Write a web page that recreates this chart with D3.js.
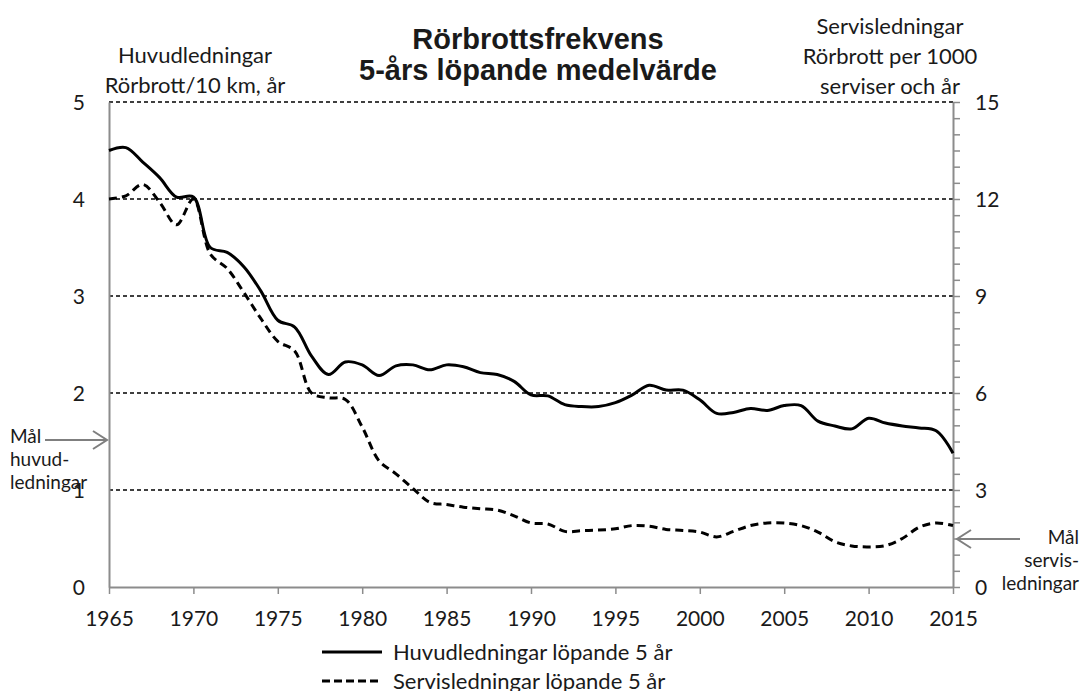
<!DOCTYPE html>
<html>
<head>
<meta charset="utf-8">
<script src="https://d3js.org/d3.v7.min.js"></script>
<style>
  body { margin: 0; background: #fff; }
  text { font-family: Lato, "DejaVu Sans", sans-serif; fill: #1a1a1a; }
</style>
</head>
<body>
<div id="chart"></div>
<script>
var years = d3.range(1965, 2016);

// Huvudledningar, rörbrott/10 km och år (vänster axel)
var huvudValues = [
  4.50, 4.53, 4.38, 4.22, 4.02, 4.02, 3.50, 3.45, 3.30, 3.05,
  2.75, 2.68, 2.38, 2.19, 2.32, 2.29, 2.18, 2.28, 2.29, 2.24,
  2.29, 2.27, 2.21, 2.19, 2.12, 1.98, 1.97, 1.88, 1.86, 1.86,
  1.90, 1.98, 2.08, 2.03, 2.03, 1.93, 1.79, 1.80, 1.84, 1.82,
  1.87, 1.87, 1.71, 1.66, 1.63, 1.74, 1.69, 1.66, 1.64, 1.61,
  1.38
];

// Servisledningar, rörbrott per 1000 serviser och år (höger axel)
var servisValues = [
  12.0, 12.1, 12.45, 11.9, 11.2, 12.0, 10.3, 9.85, 9.1, 8.3,
  7.6, 7.3, 6.0, 5.85, 5.8, 4.95, 3.9, 3.5, 3.05, 2.62,
  2.55, 2.47, 2.42, 2.38, 2.2, 1.98, 1.95, 1.72, 1.74, 1.76,
  1.8, 1.9, 1.88, 1.78, 1.75, 1.7, 1.55, 1.72, 1.9, 1.98,
  1.98, 1.9, 1.7, 1.4, 1.27, 1.24, 1.28, 1.5, 1.85, 1.98,
  1.9
];

var xTicks = d3.range(1965, 2016, 5);
var leftTicks = [0, 1, 2, 3, 4, 5];
var rightTicks = [0, 3, 6, 9, 12, 15];

var titleLines = ["Rörbrottsfrekvens", "5-års löpande medelvärde"];
var leftLabel = ["Huvudledningar", "Rörbrott/10 km, år"];
var rightLabel = ["Servisledningar", "Rörbrott per 1000", "serviser och år"];
var legendLabels = ["Huvudledningar löpande  5 år", "Servisledningar löpande 5 år"];

var svgWidth = 1086;
var svgHeight = 691;

var margin = { top: 102, right: 133, bottom: 104, left: 109 };
var width = svgWidth - margin.left - margin.right;
var height = svgHeight - margin.top - margin.bottom;

var svg = d3.select("#chart")
  .append("svg")
  .attr("width", svgWidth)
  .attr("height", svgHeight);

var chartGroup = svg.append("g")
  .attr("transform", `translate(${margin.left}, ${margin.top})`);

var xScale = d3.scaleLinear().domain([1965, 2015]).range([0, width]);
var yLeft = d3.scaleLinear().domain([0, 5]).range([height, 0]);
var yRight = d3.scaleLinear().domain([0, 15]).range([height, 0]);

var axisColor = "#8c8c8c";

// dashed gridlines
chartGroup.append("g")
  .selectAll("line")
  .data(leftTicks.filter(d => d > 0))
  .enter()
  .append("line")
  .attr("x1", 0)
  .attr("x2", width)
  .attr("y1", d => yLeft(d))
  .attr("y2", d => yLeft(d))
  .attr("stroke", "#000")
  .attr("stroke-width", 1.5)
  .attr("stroke-dasharray", "4,3");

// bottom axis
var xAxis = chartGroup.append("g")
  .attr("transform", `translate(0,${height})`)
  .call(d3.axisBottom(xScale).tickValues(xTicks).tickFormat(d3.format("d"))
    .tickSizeInner(7).tickSizeOuter(0).tickPadding(17));

// left axis
var yAxis = chartGroup.append("g")
  .call(d3.axisLeft(yLeft).tickValues(leftTicks).tickFormat(d3.format("d"))
    .tickSize(0).tickPadding(24));

// right axis with minor ticks
var yAxisRight = chartGroup.append("g")
  .attr("transform", `translate(${width},0)`)
  .call(d3.axisRight(yRight).tickValues(d3.range(0, 15.01, 0.5))
    .tickSizeInner(7).tickSizeOuter(0).tickPadding(15)
    .tickFormat(d => rightTicks.indexOf(d) >= 0 ? d : ""));

[xAxis, yAxis, yAxisRight].forEach(function(ax) {
  ax.select(".domain").attr("stroke", axisColor).attr("stroke-width", 2);
  ax.selectAll(".tick line").attr("stroke", axisColor).attr("stroke-width", 1.5);
  ax.selectAll(".tick text")
    .attr("font-family", "Lato, sans-serif")
    .attr("font-size", "21px")
    .attr("fill", "#1a1a1a");
});
yAxis.selectAll(".tick text").attr("dy", "0.36em");
yAxisRight.selectAll(".tick text").attr("dy", "0.36em");

// series lines
var huvudLine = d3.line()
  .x((d, i) => xScale(years[i]))
  .y(d => yLeft(d))
  .curve(d3.curveCatmullRom.alpha(0.5));

var servisLine = d3.line()
  .x((d, i) => xScale(years[i]))
  .y(d => yRight(d))
  .curve(d3.curveCatmullRom.alpha(0.5));

chartGroup.append("path")
  .datum(servisValues)
  .attr("d", servisLine)
  .attr("fill", "none")
  .attr("stroke", "#000")
  .attr("stroke-width", 3)
  .attr("stroke-dasharray", "8,5");

chartGroup.append("path")
  .datum(huvudValues)
  .attr("d", huvudLine)
  .attr("fill", "none")
  .attr("stroke", "#000")
  .attr("stroke-width", 3);

// titles
svg.append("g").selectAll("text")
  .data(titleLines)
  .enter()
  .append("text")
  .attr("x", 538)
  .attr("y", (d, i) => 49 + i * 31)
  .attr("text-anchor", "middle")
  .style("font-family", "'Liberation Sans', Arial, sans-serif")
  .attr("font-weight", "bold")
  .attr("font-size", "29px")
  .text(d => d);

svg.append("g").selectAll("text")
  .data(leftLabel)
  .enter()
  .append("text")
  .attr("x", 195)
  .attr("y", (d, i) => 63 + i * 30)
  .attr("text-anchor", "middle")
  .attr("font-size", "22px")
  .text(d => d);

svg.append("g").selectAll("text")
  .data(rightLabel)
  .enter()
  .append("text")
  .attr("x", 890)
  .attr("y", (d, i) => 34 + i * 30)
  .attr("text-anchor", "middle")
  .attr("font-size", "22px")
  .text(d => d);

// target annotations
function arrow(x1, x2, y) {
  var dir = x2 > x1 ? -1 : 1;
  var g = svg.append("g")
    .attr("stroke", "#7f7f7f")
    .attr("stroke-width", 2)
    .attr("fill", "none");
  g.append("line").attr("x1", x1).attr("x2", x2).attr("y1", y).attr("y2", y);
  g.append("polyline")
    .attr("points", `${x2 + dir * 14},${y - 9} ${x2},${y} ${x2 + dir * 14},${y + 9}`);
}

arrow(45, 107, 440);
arrow(1020, 957, 539);

svg.append("g").selectAll("text")
  .data(["Mål", "huvud-", "ledningar"])
  .enter()
  .append("text")
  .attr("x", 10)
  .attr("y", (d, i) => 443 + i * 23)
  .attr("font-size", "19px")
  .text(d => d);

svg.append("g").selectAll("text")
  .data(["Mål", "servis-", "ledningar"])
  .enter()
  .append("text")
  .attr("x", 1079)
  .attr("y", (d, i) => 544 + i * 23)
  .attr("text-anchor", "end")
  .attr("font-size", "19px")
  .text(d => d);

// legend
var legend = svg.append("g").attr("transform", "translate(322,652)");
legendLabels.forEach(function(label, i) {
  legend.append("line")
    .attr("x1", 0).attr("x2", 60)
    .attr("y1", i * 29).attr("y2", i * 29)
    .attr("stroke", "#000")
    .attr("stroke-width", 3)
    .attr("stroke-dasharray", i === 1 ? "8,4" : null);
  legend.append("text")
    .attr("x", 71)
    .attr("y", i * 29 + 8)
    .attr("font-size", "22px")
    .text(label);
});
</script>
</body>
</html>
